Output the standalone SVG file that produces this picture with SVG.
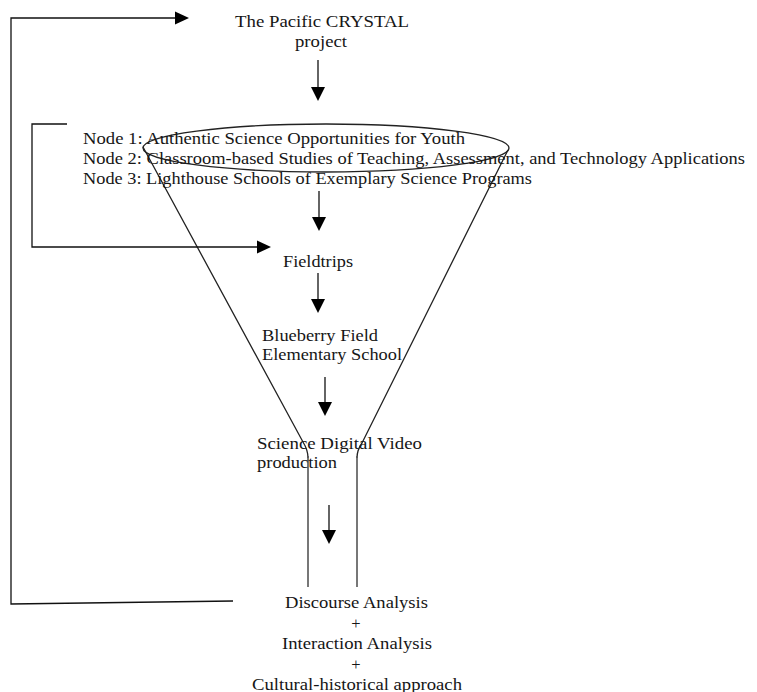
<svg xmlns="http://www.w3.org/2000/svg" width="757" height="692" viewBox="0 0 757 692">
<defs>
<style>
text{font-family:"Liberation Serif","Times New Roman",serif;font-size:16.5px;fill:#161616}
.ln{fill:none;stroke:#111;stroke-width:1.3}
.fn{fill:none;stroke:#222;stroke-width:1.3}
.fv{fill:none;stroke:#555;stroke-width:1.6}
.ah{fill:#000}
</style>
</defs>
<rect width="757" height="692" fill="#fff"/>
<g id="funnel">
<ellipse cx="326" cy="148" rx="183" ry="24" class="fn"/>
<path class="fn" d="M143,147 L303,442 Q308,450 308,458"/>
<path class="fn" d="M508,150 L362,443 Q357,450 357,458"/>
<line class="fv" x1="308" y1="456" x2="308" y2="587"/>
<line class="fv" x1="357" y1="456" x2="357" y2="587"/>
</g>
<g id="connectors">
<polyline class="ln" points="233,601 11,604 11,18 175,18"/>
<polygon class="ah" points="189,18 175,11.5 175,24.5"/>
<polyline class="ln" points="67,124 32,124 32,247 257,247"/>
<polygon class="ah" points="271,247 257,240.5 257,253.5"/>
<line class="ln" x1="318" y1="60" x2="318" y2="88"/>
<polygon class="ah" points="318,101 311,87 325,87"/>
<line class="ln" x1="319" y1="191" x2="319" y2="218"/>
<polygon class="ah" points="319,231 312,217 326,217"/>
<line class="ln" x1="318" y1="273" x2="318" y2="300"/>
<polygon class="ah" points="318,313 311,299 325,299"/>
<line class="ln" x1="325" y1="377" x2="325" y2="403"/>
<polygon class="ah" points="325,416 318,402 332,402"/>
<line class="ln" x1="329" y1="505" x2="329" y2="531"/>
<polygon class="ah" points="329,544 322,530 336,530"/>
</g>
<g id="node-pacific">
<text x="235" y="27" textLength="174" lengthAdjust="spacingAndGlyphs">The Pacific CRYSTAL</text>
<text x="295" y="46.5" textLength="52" lengthAdjust="spacingAndGlyphs">project</text>
</g>
<g id="node-nodes">
<text x="83" y="144" textLength="382" lengthAdjust="spacingAndGlyphs">Node 1: Authentic Science Opportunities for Youth</text>
<text x="83" y="164" textLength="662" lengthAdjust="spacingAndGlyphs">Node 2: Classroom-based Studies of Teaching, Assessment, and Technology Applications</text>
<text x="83" y="184" textLength="449" lengthAdjust="spacingAndGlyphs">Node 3: Lighthouse Schools of Exemplary Science Programs</text>
</g>
<g id="node-fieldtrips">
<text x="283" y="267" textLength="70" lengthAdjust="spacingAndGlyphs">Fieldtrips</text>
</g>
<g id="node-blueberry">
<text x="262" y="341" textLength="116" lengthAdjust="spacingAndGlyphs">Blueberry Field</text>
<text x="262" y="360" textLength="140" lengthAdjust="spacingAndGlyphs">Elementary School</text>
</g>
<g id="node-video">
<text x="257" y="449" textLength="165" lengthAdjust="spacingAndGlyphs">Science Digital Video</text>
<text x="257" y="468" textLength="80" lengthAdjust="spacingAndGlyphs">production</text>
</g>
<g id="node-analysis">
<text x="285" y="608" textLength="143" lengthAdjust="spacingAndGlyphs">Discourse Analysis</text>
<text x="356" y="629" text-anchor="middle" font-size="14">+</text>
<text x="282" y="649" textLength="150" lengthAdjust="spacingAndGlyphs">Interaction Analysis</text>
<text x="356" y="670" text-anchor="middle" font-size="14">+</text>
<text x="252" y="690" textLength="210" lengthAdjust="spacingAndGlyphs">Cultural-historical approach</text>
</g>
</svg>
